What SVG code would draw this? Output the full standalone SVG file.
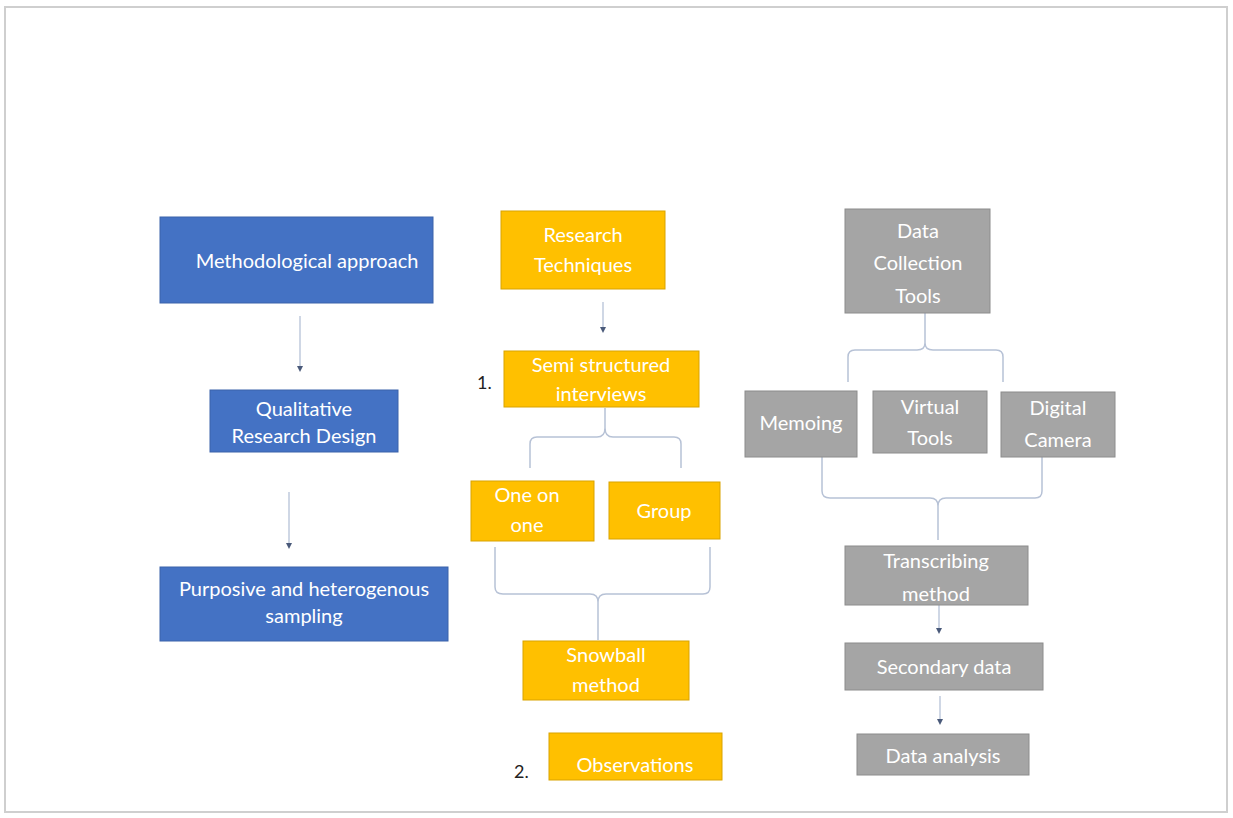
<svg xmlns="http://www.w3.org/2000/svg" width="1233" height="818" viewBox="0 0 1233 818">
<style>
.b{fill:#4472C4;stroke:#3A62AA;stroke-width:1}
.o{fill:#FFC000;stroke:#D9A300;stroke-width:1}
.g{fill:#A5A5A5;stroke:#8C8C8C;stroke-width:1}
.t{font-family:Lato,"Open Sans",sans-serif;font-size:20px;fill:#FFFFFF;text-anchor:middle}
.n{font-family:Lato,"Open Sans",sans-serif;font-size:18px;fill:#222222}
.c{fill:none;stroke:#B7C2D6;stroke-width:1.5}
.a{fill:none;stroke:#9FAFCB;stroke-width:1}
</style>
<defs>
<marker id="ah" markerWidth="6" markerHeight="6" refX="3" refY="3" orient="auto" markerUnits="userSpaceOnUse">
<path d="M0,0 L6,3 L0,6 z" fill="#4A5A7A"/>
</marker>
</defs>
<rect x="0" y="0" width="1233" height="818" fill="#FFFFFF"/>
<rect x="5" y="7" width="1222" height="805" fill="#FFFFFF" stroke="#CFCFCF" stroke-width="2"/>

<g id="connectors">
<line class="a" x1="300" y1="316" x2="300" y2="369" marker-end="url(#ah)"/>
<line class="a" x1="289" y1="492" x2="289" y2="546" marker-end="url(#ah)"/>
<line class="a" x1="603" y1="302" x2="603" y2="330" marker-end="url(#ah)"/>
<path class="c" d="M605,408 L605,428 Q605,437 597,437 L537,437 Q530,437 530,444 L530,468 M605,428 Q605,437 613,437 L674,437 Q681,437 681,444 L681,468"/>
<path class="c" d="M495,547 L495,587 Q495,594 503,594 L590,594 Q598,594 598,602 L598,640 M598,602 Q598,594 606,594 L703,594 Q710,594 710,587 L710,547"/>
<path class="c" d="M925,313 L925,343 Q925,350 917,350 L855,350 Q848,350 848,357 L848,382 M925,343 Q925,350 933,350 L996,350 Q1003,350 1003,357 L1003,382"/>
<path class="c" d="M822,457 L822,491 Q822,498 830,498 L930,498 Q938,498 938,506 L938,540 M938,506 Q938,498 946,498 L1035,498 Q1042,498 1042,491 L1042,457"/>
<line class="a" x1="939" y1="605" x2="939" y2="631" marker-end="url(#ah)"/>
<line class="a" x1="940" y1="696" x2="940" y2="722" marker-end="url(#ah)"/>
</g>

<g id="methodological-approach"><rect class="b" x="160" y="217" width="273" height="86"/><text class="t" x="307" y="268">Methodological approach</text></g>
<g id="qualitative-research-design"><rect class="b" x="210" y="390" width="188" height="62"/><text class="t" x="304" y="416">Qualitative</text><text class="t" x="304" y="443">Research Design</text></g>
<g id="purposive-sampling"><rect class="b" x="160" y="567" width="288" height="74"/><text class="t" x="304" y="596">Purposive and heterogenous</text><text class="t" x="304" y="623">sampling</text></g>

<g id="research-techniques"><rect class="o" x="501" y="211" width="164" height="78"/><text class="t" x="583" y="242">Research</text><text class="t" x="583" y="272">Techniques</text></g>
<g id="semi-structured"><rect class="o" x="504" y="351" width="195" height="56"/><text class="t" x="601" y="372">Semi structured</text><text class="t" x="601" y="401">interviews</text></g>
<text class="n" x="477" y="389">1.</text>
<g id="one-on-one"><rect class="o" x="471" y="481" width="123" height="60"/><text class="t" x="527" y="502">One on</text><text class="t" x="527" y="532">one</text></g>
<g id="group"><rect class="o" x="609" y="482" width="111" height="57"/><text class="t" x="664" y="518">Group</text></g>
<g id="snowball"><rect class="o" x="523" y="641" width="166" height="59"/><text class="t" x="606" y="662">Snowball</text><text class="t" x="606" y="692">method</text></g>
<text class="n" x="514" y="778">2.</text>
<g id="observations"><rect class="o" x="549" y="733" width="173" height="47"/><text class="t" x="635" y="772">Observations</text></g>

<g id="data-collection-tools"><rect class="g" x="845" y="209" width="145" height="104"/><text class="t" x="918" y="238">Data</text><text class="t" x="918" y="270">Collection</text><text class="t" x="918" y="303">Tools</text></g>
<g id="memoing"><rect class="g" x="745" y="391" width="112" height="66"/><text class="t" x="801" y="430">Memoing</text></g>
<g id="virtual-tools"><rect class="g" x="873" y="391" width="114" height="62"/><text class="t" x="930" y="414">Virtual</text><text class="t" x="930" y="445">Tools</text></g>
<g id="digital-camera"><rect class="g" x="1001" y="392" width="114" height="65"/><text class="t" x="1058" y="415">Digital</text><text class="t" x="1058" y="447">Camera</text></g>
<g id="transcribing"><rect class="g" x="845" y="546" width="183" height="59"/><text class="t" x="936" y="568">Transcribing</text><text class="t" x="936" y="601">method</text></g>
<g id="secondary-data"><rect class="g" x="845" y="643" width="198" height="47"/><text class="t" x="944" y="674">Secondary data</text></g>
<g id="data-analysis"><rect class="g" x="857" y="734" width="172" height="41"/><text class="t" x="943" y="763">Data analysis</text></g>
</svg>
